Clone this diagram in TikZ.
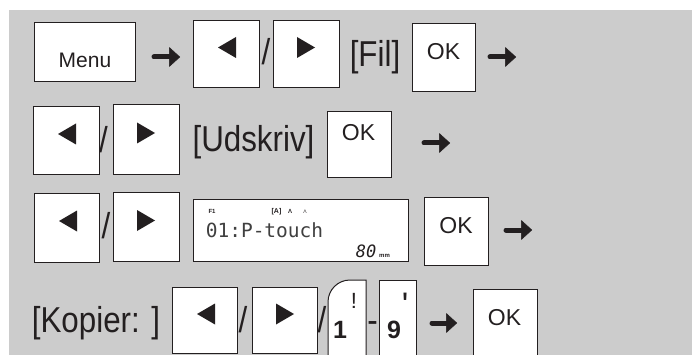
\documentclass[tikz,border=0pt]{standalone}
\usepackage{fontspec}
\setmainfont{Liberation Sans}
\newfontfamily\condfont{Liberation Sans}[FakeStretch=0.87]
\newfontfamily\lcdfont{DejaVu Sans Mono}
\usetikzlibrary{arrows.meta}
\definecolor{ink}{RGB}{35,31,32}
\definecolor{panel}{RGB}{204,204,204}
\tikzset{
  keybox/.style={draw=ink, fill=white, line width=1pt, inner sep=0pt,
    minimum width=66pt, minimum height=67pt},
  txt/.style={text=ink, inner sep=0pt, anchor=base, font=\condfont\fontsize{36}{40}\selectfont},
  oktxt/.style={txt, font=\fontsize{23}{26}\selectfont},
  tiny/.style={txt, font=\bfseries\fontsize{6}{7}\selectfont},
  go/.style={draw=ink, line width=5pt, line cap=round,
    -{Triangle[length=11pt,width=20pt,line width=0.5pt,round]}},
}

\begin{document}
\begin{tikzpicture}[x=1pt, y=-1pt]
\useasboundingbox (0,0) rectangle (692,355);
\fill[panel] (9,10) rectangle (692,355);

% row 1
\node[keybox, minimum width=101pt, minimum height=59pt] (menu) at (84.5,52.5) {};
\node[txt, font=\fontsize{21}{24}\selectfont] (menu-t) at (85,68) {Menu};
\coordinate (a1s) at (154,57);
\coordinate (a1e) at (180,57);
\draw[go] (a1s) -- (a1e);
\node[keybox] (lk1) at (226,54.5) {};
\fill[ink] (218,47.5) -- (236,37) -- (236,58) -- cycle;
\node[txt] (sl1) at (266,65) {/};
\node[keybox] (rk1) at (306,54.5) {};
\fill[ink] (315,47.5) -- (297,37) -- (297,58) -- cycle;
\node[txt] (fil) at (375,67) {[Fil]};
\node[keybox, minimum width=63pt, minimum height=68pt] (ok1) at (443.5,58) {};
\node[oktxt] (ok1-t) at (443.5,60) {OK};
\coordinate (a2s) at (490,57);
\coordinate (a2e) at (516,57);
\draw[go] (a2s) -- (a2e);

% row 2
\node[keybox, minimum height=68pt] (lk2) at (66,141) {};
\fill[ink] (58,134) -- (76,123.5) -- (76,144.5) -- cycle;
\node[txt] (sl2) at (103.5,153) {/};
\node[keybox, minimum height=70pt] (rk2) at (146,140) {};
\fill[ink] (155,133) -- (137,122.5) -- (137,143.5) -- cycle;
\node[txt] (udskriv) at (253.5,152) {[Udskriv]};
\node[keybox, minimum width=64pt, minimum height=66pt] (ok2) at (359,145) {};
\node[oktxt] (ok2-t) at (358.5,141) {OK};
\coordinate (a3s) at (424,143);
\coordinate (a3e) at (450,143);
\draw[go] (a3s) -- (a3e);

% row 3
\node[keybox, minimum width=65pt, minimum height=68pt] (lk3) at (66.5,228) {};
\fill[ink] (59,221) -- (77,210.5) -- (77,231.5) -- cycle;
\node[txt] (sl3) at (106,238) {/};
\node[keybox, minimum height=68pt] (rk3) at (146,227) {};
\fill[ink] (155,220.5) -- (137,210) -- (137,231) -- cycle;
\node[keybox, minimum width=215pt, minimum height=61pt] (lcd) at (300.5,230.5) {};
\node[tiny] (lcd-f) at (212,213.5) {F1};
\node[tiny, font=\bfseries\fontsize{7}{8}\selectfont] (lcd-a) at (276.5,213.5) {[A]};
\node[tiny] (lcd-c1) at (290,213.5) {Λ};
\node[tiny, font=\fontsize{5}{6}\selectfont] (lcd-c2) at (305,213.5) {Λ};
\node[txt, text=black!75, font=\lcdfont\fontsize{19.5}{22}\selectfont] (lcd-t) at (264.5,237) {01:P-touch};
\node[txt, font=\lcdfont\itshape\fontsize{17}{20}\selectfont] (lcd-n) at (366,257) {80};
\node[tiny, font=\bfseries\fontsize{6}{7}\selectfont] (lcd-mm) at (384.5,257) {mm};
\node[keybox, minimum width=64pt, minimum height=67pt] (ok3) at (456,231.5) {};
\node[oktxt] (ok3-t) at (456,233) {OK};
\coordinate (a4s) at (506,230);
\coordinate (a4e) at (532,230);
\draw[go] (a4s) -- (a4e);

% row 4
\node[txt] (kopier) at (96,332) {[Kopier: ]};
\node[keybox, minimum width=65pt, minimum height=66pt] (lk4) at (204.5,320) {};
\fill[ink] (197,314) -- (215,303.5) -- (215,324.5) -- cycle;
\node[txt] (sl4) at (243,332) {/};
\node[keybox, minimum width=65pt, minimum height=66pt] (rk4) at (284.5,320) {};
\fill[ink] (294,314) -- (276,303.5) -- (276,324.5) -- cycle;
\node[txt] (sl5) at (322,332) {/};
\draw[ink, fill=white, line width=1pt] (328,360) -- (328,302) arc (180:270:22) -- (366,280) -- (366,360);
\node[txt, font=\bfseries\fontsize{25}{30}\selectfont] (one) at (340,338) {1};
\node[txt, anchor=north, font=\fontsize{22}{26}\selectfont] (excl) at (354,293) {!};
\node[txt] (dash) at (372.5,332) {-};
\node[keybox, minimum width=37pt, minimum height=80pt] (nine-k) at (397.5,320) {};
\node[txt, font=\bfseries\fontsize{25}{30}\selectfont] (nine) at (394,338) {9};
\node[txt, anchor=north, font=\fontsize{34}{40}\selectfont] (prime) at (405,293) {\textquotesingle};
\coordinate (a5s) at (432,323);
\coordinate (a5e) at (457,323);
\draw[go] (a5s) -- (a5e);
\node[keybox, minimum width=64pt, minimum height=70pt] (ok4) at (505,324) {};
\node[oktxt] (ok4-t) at (504.5,325) {OK};
\end{tikzpicture}
\end{document}
